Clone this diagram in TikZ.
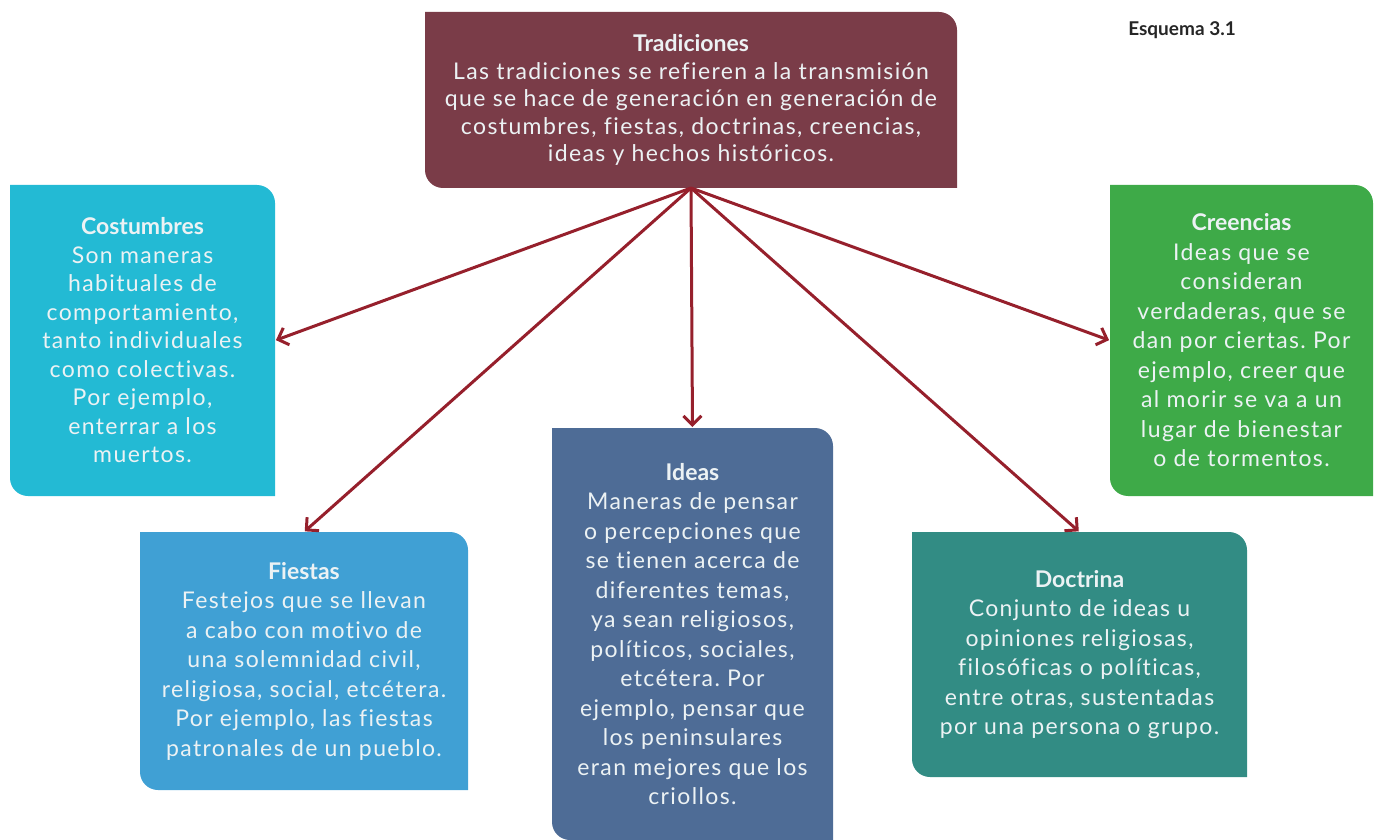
\documentclass[tikz,border=0pt]{standalone}
\usepackage{fontspec}
\setmainfont{Lato}
\newfontfamily\bodyfont{Lato}[LetterSpace=6, Ligatures=NoCommon]
\frenchspacing
\usetikzlibrary{arrows.meta, backgrounds}
\definecolor{tradred}{RGB}{122,60,72}
\definecolor{costcyan}{RGB}{35,186,212}
\definecolor{fiesblue}{RGB}{64,160,212}
\definecolor{ideablue}{RGB}{78,108,150}
\definecolor{doctteal}{RGB}{50,140,132}
\definecolor{creegreen}{RGB}{62,170,72}
\definecolor{linkred}{RGB}{150,32,44}
\definecolor{cardtext}{RGB}{236,242,244}
\newcommand{\cardtitle}[1]{{\normalfont\bfseries #1}}
% fill with rounded top-right and bottom-left corners
\newcommand{\cardfill}[2]{%
  \fill[#2] (#1.north west) -- ([xshift=-18pt]#1.north east)
    arc[start angle=90, end angle=0, radius=18pt] -- (#1.south east)
    -- ([xshift=18pt]#1.south west)
    arc[start angle=270, end angle=180, radius=18pt] -- cycle;}

\begin{document}
\begin{tikzpicture}[x=1pt, y=1pt,
  card/.style={anchor=north west, inner sep=3pt, outer sep=0pt,
               align=center, text=cardtext,
               font=\bodyfont\fontsize{23}{29.5}\selectfont},
  link/.style={-{Straight Barb[length=9pt, width=18pt]}, linkred,
               line width=3pt, shorten >=1pt}]
\useasboundingbox (0,0) rectangle (1377,-840);
\node[card, minimum width=532pt, minimum height=176pt,
      font=\bodyfont\fontsize{23}{27.5}\selectfont] (trad) at (425,-12)
  {\cardtitle{Tradiciones}\\
   Las tradiciones se refieren a la transmisión\\
   que se hace de generación en generación de\\
   costumbres, fiestas, doctrinas, creencias,\\
   ideas y hechos históricos.};
\node[card, minimum width=265pt, minimum height=311pt,
      font=\bodyfont\fontsize{23}{28.5}\selectfont] (cost) at (10,-185)
  {\cardtitle{Costumbres}\\ Son maneras\\ habituales de\\ comportamiento,\\
   tanto individuales\\ como colectivas.\\ Por ejemplo,\\ enterrar a los\\
   muertos.};
\node[card, minimum width=263pt, minimum height=311pt] (cree) at (1110,-185)
  {\cardtitle{Creencias}\\ Ideas que se\\ consideran\\ verdaderas, que se\\
   dan por ciertas. Por\\ ejemplo, creer que\\ al morir se va a un\\
   lugar de bienestar\\ o de tormentos.};
\node[card, minimum width=328pt, minimum height=258pt] (fies) at (140,-532)
  {\cardtitle{Fiestas}\\ Festejos que se llevan\\ a cabo con motivo de\\
   una solemnidad civil,\\ religiosa, social, etcétera.\\
   Por ejemplo, las fiestas\\ patronales de un pueblo.};
\node[card, minimum width=281pt, minimum height=412pt] (idea) at (552,-428)
  {\cardtitle{Ideas}\\ Maneras de pensar\\ o percepciones que\\ se tienen acerca de\\
   diferentes temas,\\ ya sean religiosos,\\ políticos, sociales,\\
   etcétera. Por\\ ejemplo, pensar que\\ los peninsulares\\
   eran mejores que los\\ criollos.};
\node[card, minimum width=335pt, minimum height=245pt] (doct) at (912,-532)
  {\cardtitle{Doctrina}\\ Conjunto de ideas u\\ opiniones religiosas,\\
   filosóficas o políticas,\\ entre otras, sustentadas\\
   por una persona o grupo.};
\node[font=\fontsize{19}{23}\selectfont\bfseries, text=black!85] (esq)
  at (1182,-30) {Esquema 3.1};
\begin{scope}[on background layer]
  \cardfill{trad}{tradred}
  \cardfill{cost}{costcyan}
  \cardfill{cree}{creegreen}
  \cardfill{fies}{fiesblue}
  \cardfill{idea}{ideablue}
  \cardfill{doct}{doctteal}
\end{scope}
\foreach \dest/\side in {cost/east, fies/north, idea/north, doct/north, cree/west}
  \draw[link] (trad.south) -- (\dest.\side);
\end{tikzpicture}
\end{document}
